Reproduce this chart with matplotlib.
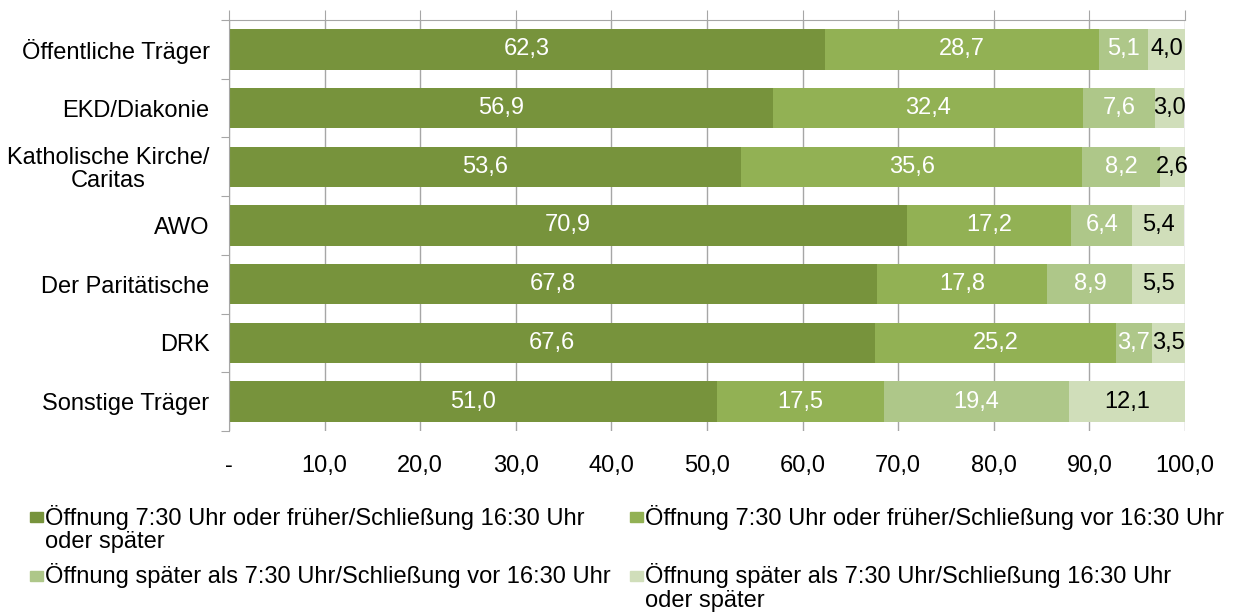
import matplotlib
matplotlib.use("Agg")

import numpy as np
import matplotlib.pyplot as plt
from matplotlib.patches import Rectangle

plt.rcParams["font.family"] = ["Liberation Sans", "DejaVu Sans"]

categories = ["Öffentliche Träger", "EKD/Diakonie", "Katholische Kirche/\nCaritas",
              "AWO", "Der Paritätische", "DRK", "Sonstige Träger"]
s1 = [62.3, 56.9, 53.6, 70.9, 67.8, 67.6, 51.0]
s2 = [28.7, 32.4, 35.6, 17.2, 17.8, 25.2, 17.5]
s3 = [5.1, 7.6, 8.2, 6.4, 8.9, 3.7, 19.4]
s4 = [4.0, 3.0, 2.6, 5.4, 5.5, 3.5, 12.1]
series_labels = [
    "Öffnung 7:30 Uhr oder früher/Schließung 16:30 Uhr\noder später",
    "Öffnung 7:30 Uhr oder früher/Schließung vor 16:30 Uhr",
    "Öffnung später als 7:30 Uhr/Schließung vor 16:30 Uhr",
    "Öffnung später als 7:30 Uhr/Schließung 16:30 Uhr\noder später",
]
xticks = [0, 10, 20, 30, 40, 50, 60, 70, 80, 90, 100]
xtick_labels = ["-", "10,0", "20,0", "30,0", "40,0", "50,0", "60,0",
                "70,0", "80,0", "90,0", "100,0"]

COLORS = ["#77933C", "#92B154", "#AEC789", "#D0DEBA"]
TXT_COL = ["white", "white", "white", "black"]
GRID = "#A6A6A6"
FS = 17

W, H = 1233, 615
fig = plt.figure(figsize=(W / 100, H / 100), dpi=100)
ax = fig.add_axes([229 / W, 1 - 431 / H, (1185 - 229) / W, (431 - 20) / H])

y = np.arange(len(categories))
left = np.zeros(len(categories))
for k, vals in enumerate([s1, s2, s3, s4]):
    vals = np.array(vals)
    ax.barh(y, vals, left=left, height=0.69, color=COLORS[k], zorder=2)
    for i, v in enumerate(vals):
        ax.text(left[i] + v / 2, y[i], f"{v:.1f}".replace(".", ","),
                ha="center", va="center", fontsize=FS, color=TXT_COL[k], zorder=3)
    left += vals

ax.set_xlim(0, 100)
ax.set_ylim(len(categories) - 0.5, -0.5)
ax.set_xticks(xticks)
ax.set_xticklabels(xtick_labels, fontsize=FS)
ax.tick_params(axis="x", top=True, bottom=False, labeltop=False, labelbottom=True,
               length=7, color=GRID, direction="out", pad=10)
ax.grid(True, axis="x", color=GRID, linewidth=1, zorder=0)

ax.set_yticks(np.arange(len(categories) + 1) - 0.5, minor=False)
ax.set_yticklabels([])
ax.set_yticks(y, minor=True)
ax.set_yticklabels(categories, minor=True, fontsize=FS)
ax.tick_params(axis="y", which="major", length=6, color=GRID, direction="out")
ax.tick_params(axis="y", which="minor", length=0, pad=14)
for lab in ax.get_yticklabels(minor=True):
    lab.set_horizontalalignment("right")
    lab.set_multialignment("center")
    lab.set_linespacing(1.05)

for side in ["right", "bottom"]:
    ax.spines[side].set_visible(False)
ax.spines["left"].set_color(GRID)
ax.spines["top"].set_color(GRID)

# legend drawn by hand (marker aligned with first line)
leg_pos = [(30, 517), (630, 517), (30, 576), (630, 576)]
for k, (lx, ly) in enumerate(leg_pos):
    fig.patches.append(Rectangle((lx / W, 1 - (ly + 5) / H), 13 / W, 10 / H,
                                 transform=fig.transFigure, color=COLORS[k]))
    for j, line in enumerate(series_labels[k].split("\n")):
        fig.text((lx + 15) / W, 1 - (ly + 25 * j) / H, line, ha="left",
                 va="center", fontsize=FS)

plt.savefig("out.png", dpi=100)
plt.close()
